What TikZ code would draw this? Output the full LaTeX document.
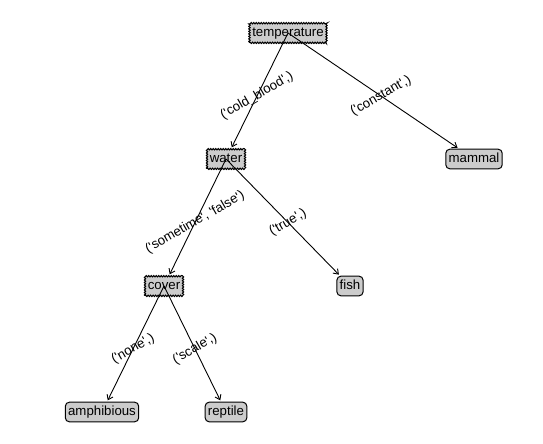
\documentclass[tikz,border=0pt]{standalone}
\usepackage{fontspec}
\setmainfont{Liberation Sans}
\usetikzlibrary{arrows.meta,decorations.pathmorphing}
\newcommand{\sq}{\textquotesingle}
\tikzset{
  base/.style={fill=black!20, draw=black, line width=1bp,
    font=\fontsize{13.3}{15}\selectfont, text height=9.7bp, text depth=2.9bp,
    inner xsep=2.8bp, inner ysep=3.5bp},
  decision/.style={base, decorate, decoration={zigzag, segment length=2.5bp, amplitude=0.7bp}},
  leaf/.style={base, rounded corners=4bp},
  edge/.style={-{Straight Barb[length=4.5bp,width=6.5bp]}, line width=0.9bp, shorten >=1.5bp},
  elabel/.style={font=\fontsize{13.3}{15}\selectfont, rotate=30, inner sep=0pt},
}
\begin{document}
\begin{tikzpicture}[x=1bp,y=-1bp]
\useasboundingbox[fill=white] (0,0) rectangle (543,444);
\node[decision] (temp) at (288,33) {temperature};
\node[decision] (water) at (226,159) {water};
\node[leaf] (mammal) at (474,159) {mammal};
\node[decision] (cover) at (164,286) {cover};
\node[leaf] (fish) at (350,286) {fish};
\node[leaf] (amph) at (102,412) {amphibious};
\node[leaf] (rept) at (226,412) {reptile};
\draw[edge] (temp.center) -- (water);
\draw[edge] (temp.center) -- (mammal);
\draw[edge] (water.center) -- (cover);
\draw[edge] (water.center) -- (fish);
\draw[edge] (cover.center) -- (amph);
\draw[edge] (cover.center) -- (rept);
\path (temp.center) -- (water.center) node[midway, elabel] (l1) {(\sq cold\_blood\sq,)};
\path (temp.center) -- (mammal.center) node[midway, elabel] (l2) {(\sq constant\sq,)};
\path (water.center) -- (cover.center) node[midway, elabel] (l3) {(\sq sometime\sq, \sq false\sq)};
\path (water.center) -- (fish.center) node[midway, elabel] (l4) {(\sq true\sq,)};
\path (cover.center) -- (amph.center) node[midway, elabel] (l5) {(\sq none\sq,)};
\path (cover.center) -- (rept.center) node[midway, elabel] (l6) {(\sq scale\sq,)};
\end{tikzpicture}
\end{document}
